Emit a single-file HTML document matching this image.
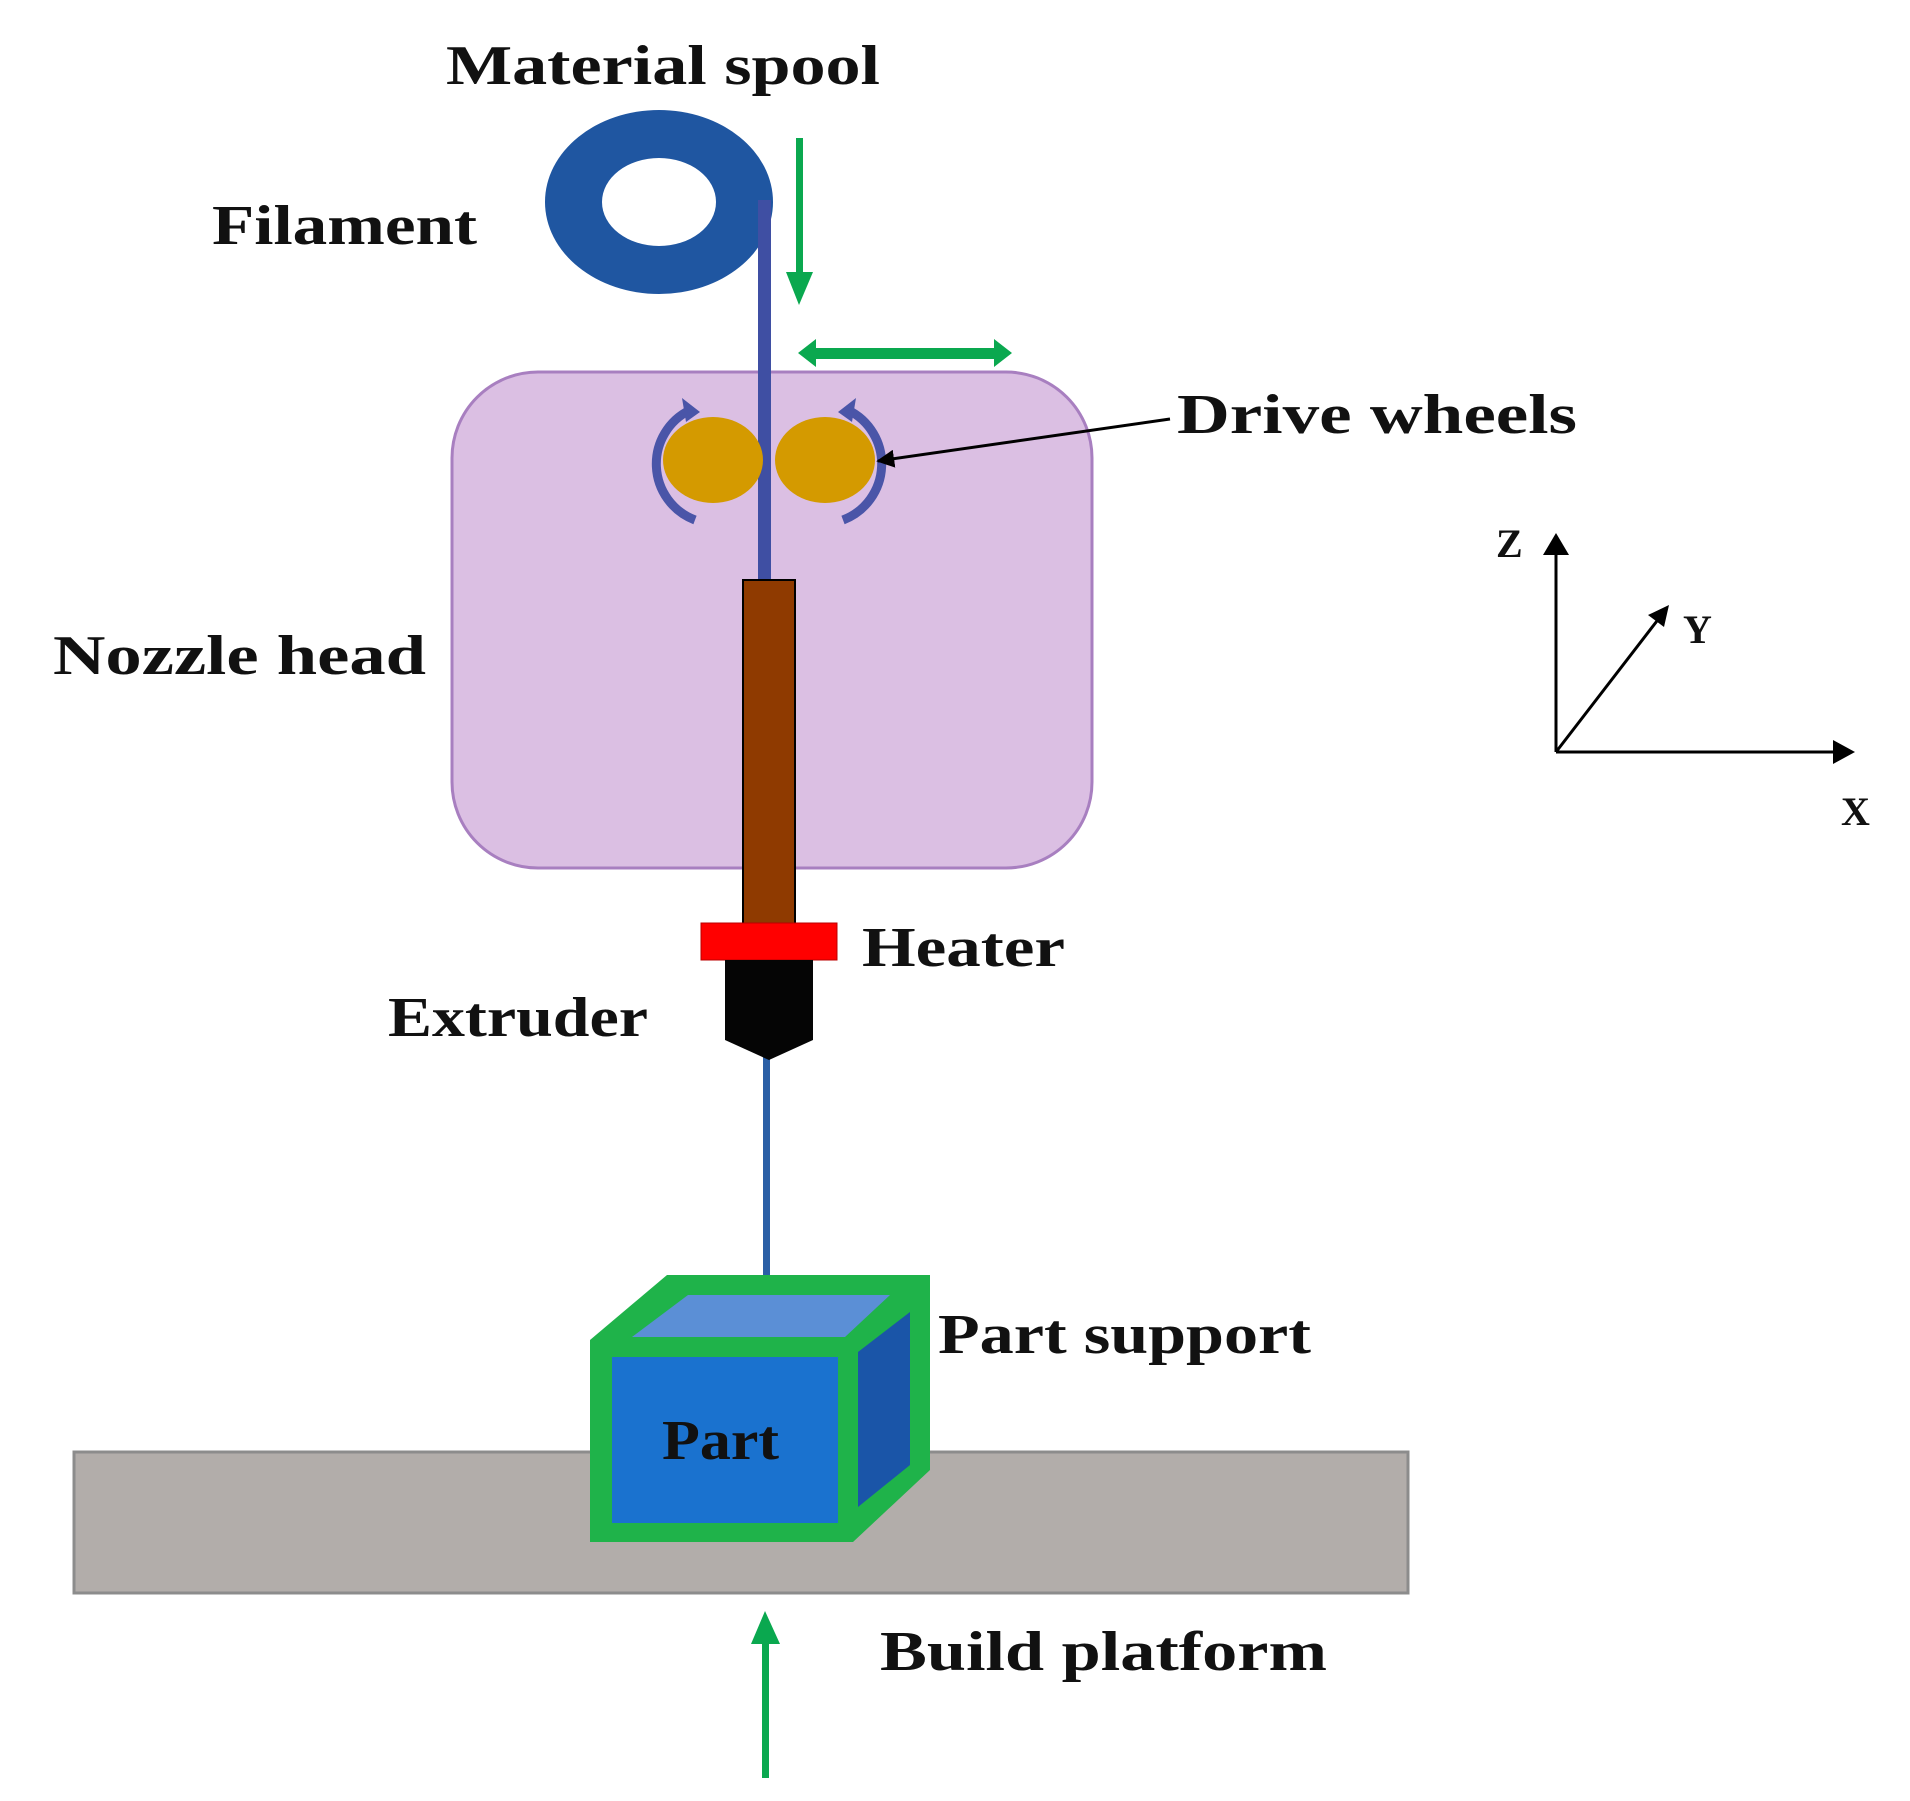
<!DOCTYPE html>
<html><head><meta charset="utf-8"><style>html,body{margin:0;padding:0;background:#fff;}svg{display:block}</style></head>
<body>
<svg width="1910" height="1801" viewBox="0 0 1910 1801" xmlns="http://www.w3.org/2000/svg">
<defs>
<marker id="ah" viewBox="0 0 10 10" refX="9" refY="5" markerWidth="6" markerHeight="6" orient="auto-start-reverse"><path d="M0,0 L10,5 L0,10 z" fill="#000"/></marker>
</defs>
<g font-family="'Liberation Serif', serif" font-weight="bold" fill="#111">
<text x="446" y="84" font-size="56" textLength="434" lengthAdjust="spacingAndGlyphs">Material spool</text>
<text x="212" y="244" font-size="56" textLength="265" lengthAdjust="spacingAndGlyphs">Filament</text>
<text x="1177" y="433" font-size="56" textLength="400" lengthAdjust="spacingAndGlyphs">Drive wheels</text>
<text x="53" y="674" font-size="56" textLength="373" lengthAdjust="spacingAndGlyphs">Nozzle head</text>
<text x="862" y="966" font-size="56" textLength="203" lengthAdjust="spacingAndGlyphs">Heater</text>
<text x="388" y="1036" font-size="56" textLength="260" lengthAdjust="spacingAndGlyphs">Extruder</text>
<text x="938" y="1353" font-size="56" textLength="373" lengthAdjust="spacingAndGlyphs">Part support</text>
<text x="880" y="1670" font-size="56" textLength="447" lengthAdjust="spacingAndGlyphs">Build platform</text>
</g>
<!-- platform -->
<rect x="74" y="1452" width="1334" height="141" fill="#b2adaa" stroke="#8c8c8c" stroke-width="3"/>
<!-- nozzle head box -->
<rect x="452" y="372" width="640" height="496" rx="86" fill="#dbbfe3" stroke="#a87fc0" stroke-width="3"/>
<!-- spool -->
<ellipse cx="659" cy="202" rx="114" ry="92" fill="#1f56a1"/>
<ellipse cx="659" cy="202" rx="57" ry="44" fill="#fff"/>
<!-- filament -->
<rect x="758" y="200" width="13" height="390" fill="#3f4fa3"/>
<rect x="763" y="1055" width="7" height="240" fill="#2a5fa6"/>
<!-- wheels -->
<ellipse cx="713" cy="460" rx="50" ry="43" fill="#d49a00"/>
<ellipse cx="825" cy="460" rx="50" ry="43" fill="#d49a00"/>
<g fill="none" stroke="#4a55a8" stroke-width="9">
<path d="M690,410 A60,60 0 0 0 695,520"/>
<path d="M848,410 A60,60 0 0 1 843,520"/>
</g>
<path d="M682,398 L700,412 L686,422 z" fill="#4a55a8"/>
<path d="M856,398 L838,412 L852,422 z" fill="#4a55a8"/>
<!-- drive wheel pointer -->
<line x1="1170" y1="419" x2="878" y2="461" stroke="#000" stroke-width="3" marker-end="url(#ah)"/>
<!-- tube, heater, extruder -->
<rect x="743" y="580" width="52" height="345" fill="#8f3a00" stroke="#000" stroke-width="2"/>
<rect x="701" y="923" width="136" height="37" fill="#ff0000" stroke="#b00" stroke-width="1"/>
<path d="M725,960 L813,960 L813,1040 L769,1060 L725,1040 z" fill="#050505"/>
<!-- green arrows -->
<g fill="#0aa84f">
<rect x="796" y="138" width="7" height="140"/>
<path d="M786,272 L813,272 L799,305 z"/>
<rect x="810" y="348" width="192" height="11"/>
<path d="M798,353 L816,339 L816,367 z"/>
<path d="M1012,353 L994,339 L994,367 z"/>
<rect x="762" y="1640" width="7" height="138"/>
<path d="M751,1644 L780,1644 L765,1611 z"/>
</g>
<!-- cube -->
<path d="M590,1340 L667,1275 L930,1275 L930,1470 L853,1542 L590,1542 z" fill="#1fb34a"/>
<path d="M612,1357 L838,1357 L838,1523 L612,1523 z" fill="#1a72cf"/>
<path d="M632,1337 L688,1295 L890,1295 L845,1337 z" fill="#5b8fd6"/>
<path d="M858,1352 L910,1312 L910,1465 L858,1507 z" fill="#1a55a8"/>
<text x="662" y="1459" font-family="'Liberation Serif', serif" font-weight="bold" font-size="56" fill="#111" textLength="117" lengthAdjust="spacingAndGlyphs">Part</text>
<!-- axes -->
<g stroke="#000" stroke-width="3" fill="none">
<line x1="1556" y1="752" x2="1556" y2="550"/>
<line x1="1556" y1="752" x2="1838" y2="752"/>
<line x1="1556" y1="752" x2="1660" y2="617"/>
</g>
<path d="M1543,555 L1569,555 L1556,533 z" fill="#000"/>
<path d="M1833,740 L1833,764 L1855,752 z" fill="#000"/>
<path d="M1648,615 L1664,627 L1669,605 z" fill="#000"/>
<g font-family="'Liberation Serif', serif" font-weight="bold" font-size="40" fill="#111">
<text x="1496" y="557">Z</text>
<text x="1683" y="643">Y</text>
<text x="1841" y="825">X</text>
</g>
</svg>
</body></html>
